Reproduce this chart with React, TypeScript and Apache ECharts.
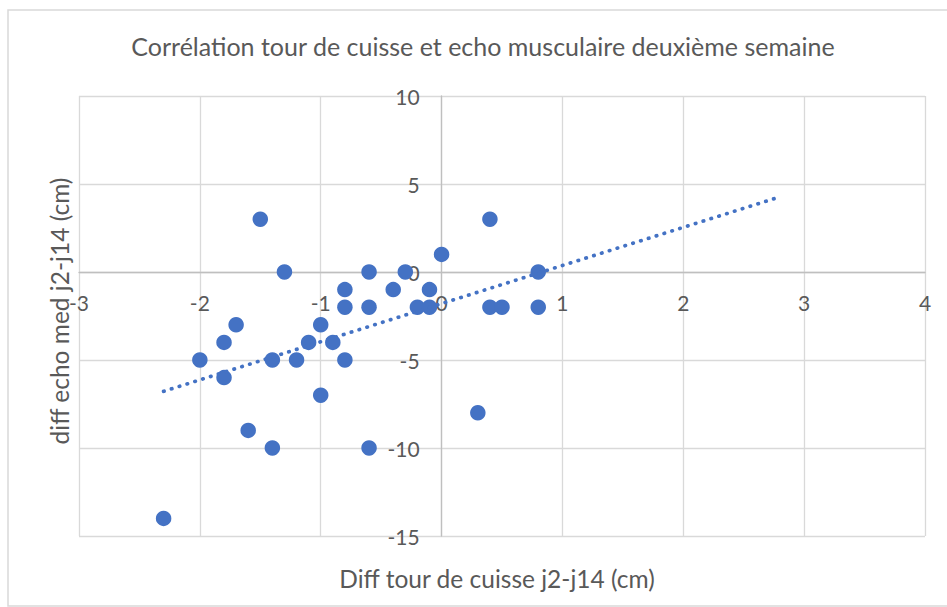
import React, { useEffect, useRef } from "react";
import * as echarts from "echarts";

const titleText = "Corrélation tour de cuisse et echo musculaire deuxième semaine";
const xAxisTitle = "Diff tour de cuisse j2-j14 (cm)";
const yAxisTitle = "diff echo med j2-j14 (cm)";

const xValues = [
  -1.5, -1.3, -0.8, -0.6, -0.3, -0.4, -0.1, 0, -0.8, -0.6, -0.2, -0.1,
  -1.7, -1, -1.8, -1.1, -0.9, -2, -1.4, -1.2, -0.8, -1.8, -1, -1.6,
  -1.4, -0.6, -2.3, 0.3, 0.4, 0.8, 0.4, 0.5, 0.8,
];
const yValues = [
  3, 0, -1, 0, 0, -1, -1, 1, -2, -2, -2, -2,
  -3, -3, -4, -4, -4, -5, -5, -5, -5, -6, -7, -9,
  -10, -10, -14, -8, 3, 0, -2, -2, -2,
];
const trendX = [-2.3, 2.8];
const trendY = [-6.78, 4.27];

const xMin = -3;
const xMax = 4;
const xStep = 1;
const yMin = -15;
const yMax = 10;
const yStep = 5;

const FONT = "Lato, 'Open Sans', sans-serif";
const TEXT_COLOR = "#595959";
const BLUE = "#4472C4";

const W = 947;
const H = 607;
const GRID = { left: 79, right: 22, top: 96, bottom: 71 };

export default function App() {
  const ref = useRef<HTMLDivElement>(null);
  useEffect(() => {
    document.body.style.margin = "0";
    if (!ref.current) return;
    const chart = echarts.init(ref.current, undefined, { renderer: "svg" });
    const points = xValues.map((x, i) => [x, yValues[i]]);
    const trend = trendX.map((x, i) => [x, trendY[i]]);
    const gw = W - GRID.left - GRID.right;
    const gh = H - GRID.top - GRID.bottom;
    // distance from the grid edge to the zero crossing of the other axis
    const xAxisOffset = -(gh * (0 - yMin)) / (yMax - yMin);
    const yAxisOffset = -(gw * (0 - xMin)) / (xMax - xMin);
    chart.setOption({
      animation: false,
      backgroundColor: "#ffffff",
      grid: { ...GRID, containLabel: false },
      xAxis: {
        type: "value",
        min: xMin,
        max: xMax,
        interval: xStep,
        position: "bottom",
        offset: xAxisOffset,
        axisLine: { show: true, onZero: false, lineStyle: { color: "#bfbfbf", width: 1.3 } },
        axisTick: { show: false },
        axisLabel: { color: TEXT_COLOR, fontSize: 21, fontFamily: FONT, margin: 20 },
        splitLine: { show: true, lineStyle: { color: "#d9d9d9", width: 1.3 } },
      },
      yAxis: {
        type: "value",
        min: yMin,
        max: yMax,
        interval: yStep,
        position: "left",
        offset: yAxisOffset,
        axisLine: { show: true, onZero: false, lineStyle: { color: "#bfbfbf", width: 1.3 } },
        axisTick: { show: false },
        axisLabel: { color: TEXT_COLOR, fontSize: 21, fontFamily: FONT, margin: 22 },
        splitLine: { show: true, lineStyle: { color: "#d9d9d9", width: 1.3 } },
      },
      series: [
        {
          type: "scatter",
          data: points,
          symbol: "circle",
          symbolSize: 15.5,
          itemStyle: { color: BLUE, opacity: 1 },
          z: 3,
        },
        {
          type: "line",
          data: trend,
          symbol: "none",
          lineStyle: { color: BLUE, width: 3.7, type: [0.5, 7.7], cap: "round" },
          z: 4,
        },
      ],
      graphic: [
        {
          type: "rect",
          shape: { x: 8, y: 10, width: 945, height: 596 },
          style: { fill: "none", stroke: "#d9d9d9", lineWidth: 1.5 },
          silent: true,
        },
        {
          type: "text",
          x: 483,
          y: 46,
          style: {
            text: titleText,
            fill: TEXT_COLOR,
            font: `25px ${FONT}`,
            textAlign: "center",
            textVerticalAlign: "middle",
          },
        },
        {
          type: "text",
          x: 497,
          y: 578,
          style: {
            text: xAxisTitle,
            fill: TEXT_COLOR,
            font: `24.5px ${FONT}`,
            textAlign: "center",
            textVerticalAlign: "middle",
          },
        },
        {
          type: "text",
          x: 59,
          y: 311,
          rotation: Math.PI / 2,
          style: {
            text: yAxisTitle,
            fill: TEXT_COLOR,
            font: `24.5px ${FONT}`,
            textAlign: "center",
            textVerticalAlign: "middle",
          },
        },
      ],
    });
    return () => chart.dispose();
  }, []);
  return <div ref={ref} style={{ width: W, height: H }} />;
}
